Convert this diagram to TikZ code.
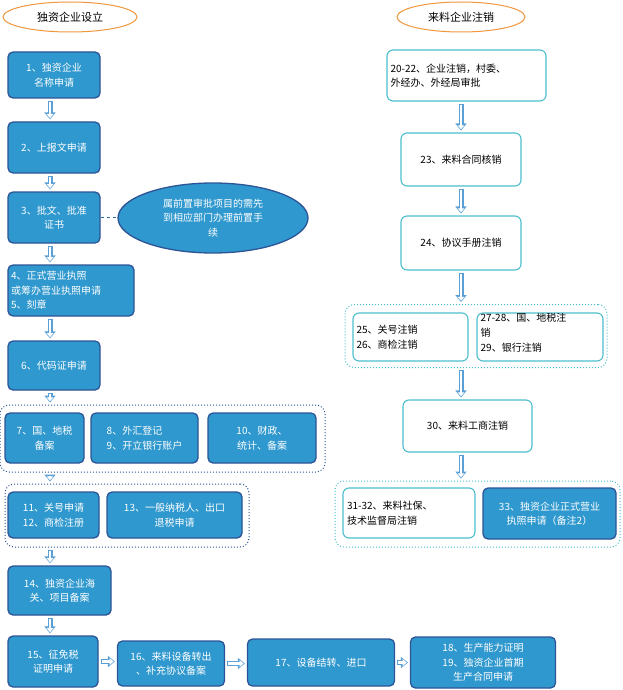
\documentclass[tikz,border=0pt]{standalone}
\usepackage{fontspec}
\setmainfont{Noto Sans CJK SC}
\usetikzlibrary{arrows.meta,shapes.geometric}
\definecolor{bfill}{RGB}{47,152,206}
\definecolor{bdraw}{RGB}{44,84,150}
\definecolor{teal}{RGB}{75,190,205}
\definecolor{acol}{RGB}{90,160,215}
\definecolor{orng}{RGB}{240,150,60}
\begin{document}
\begin{tikzpicture}[x=1pt,y=-1pt,
  every node/.style={font=\fontsize{10}{14.5}\selectfont, inner sep=1pt},
  bb/.style={rectangle, rounded corners=5pt, fill=bfill, draw=bdraw, line width=1.3pt, text=white, align=center},
  wb/.style={rectangle, rounded corners=6pt, fill=white, draw=teal, line width=1.1pt, text=black, align=center},
  grp/.style={rectangle, rounded corners=9pt, draw=bdraw, dotted, line width=1pt},
  grpt/.style={rectangle, rounded corners=9pt, draw=teal, dotted, line width=1pt},
  title/.style={ellipse, draw=orng, line width=1pt, fill=white, font=\fontsize{11}{13}\selectfont},
  hol/.style={shorten >=2pt, shorten <=2pt, line width=5pt, draw=acol, -{Triangle[width=11pt,length=7pt]},
    postaction={draw=white, line width=2.6pt, shorten >=3.2pt, shorten <=3.2pt, -{Triangle[width=6.5pt,length=4pt]}}},
]
\useasboundingbox (0,0) rectangle (622,690);
\coordinate (axl) at (50,0);
\coordinate (axr) at (461,0);
% titles
\node[title, minimum width=134pt, minimum height=30pt] (e1) at (70,17) {独资企业设立};
\node[title, minimum width=128pt, minimum height=30pt] (e2) at (461,17) {来料企业注销};
% left column
\node[bb, minimum width=92pt, minimum height=46pt] (b1) at (54,75) {1、独资企业\\名称申请};
\node[bb, minimum width=92pt, minimum height=51pt] (b2) at (54,147.5) {2、上报文申请};
\node[bb, minimum width=92pt, minimum height=51pt] (b3) at (54,217.5) {3、批文、批准\\证书};
\node[ellipse, fill=bfill, draw=bdraw, line width=1.3pt, text=white, align=center, minimum width=190pt, minimum height=70pt] (note) at (213,218) {属前置审批项目的需先\\到相应部门办理前置手\\续};
\node[bb, minimum width=126pt, minimum height=51pt, align=left, text width=120pt] (b4) at (71,290.5) {4、正式营业执照\\或筹办营业执照申请\\5、刻章};
\node[bb, minimum width=92pt, minimum height=49pt] (b6) at (54,365.5) {6、代码证申请};
\node[grp, minimum width=325pt, minimum height=67pt] (g1) at (162.5,438.5) {};
\node[bb, minimum width=79pt, minimum height=50pt] (b7) at (44.5,438) {7、国、地税\\备案};
\node[bb, minimum width=107pt, minimum height=50pt, align=left] (b8) at (144.5,438) {8、外汇登记\\9、开立银行账户};
\node[bb, minimum width=108pt, minimum height=50pt] (b10) at (262,438) {10、财政、\\统计、备案};
\node[grp, minimum width=244pt, minimum height=63pt] (g2) at (127,515.5) {};
\node[bb, minimum width=91pt, minimum height=46pt, align=left] (b11) at (53.5,515) {11、关号申请\\12、商检注册};
\node[bb, minimum width=135pt, minimum height=46pt] (b13) at (174.5,515) {13、一般纳税人、出口\\退税申请};
\node[bb, minimum width=103pt, minimum height=49pt] (b14) at (59.5,590.5) {14、独资企业海\\关、项目备案};
\node[bb, minimum width=90pt, minimum height=51pt] (b15) at (53,661.5) {15、征免税\\证明申请};
\node[bb, minimum width=107pt, minimum height=45pt] (b16) at (171,663.5) {16、来料设备转出\\、补充协议备案};
\node[bb, minimum width=147pt, minimum height=47pt] (b17) at (321,662.5) {17、设备结转、进口};
\node[bb, minimum width=145pt, minimum height=51pt] (b18) at (483,662.5) {18、生产能力证明\\19、独资企业首期\\生产合同申请};
% right column
\node[wb, minimum width=159pt, minimum height=51pt, align=left, text width=152pt] (b20) at (466.5,75.5) {20-22、企业注销，村委、\\外经办、外经局审批};
\node[wb, minimum width=120pt, minimum height=53pt] (b23) at (461,159.5) {23、来料合同核销};
\node[wb, minimum width=120pt, minimum height=54pt] (b24) at (461,243) {24、协议手册注销};
\node[grpt, minimum width=262pt, minimum height=63pt] (g3) at (476,336) {};
\node[wb, minimum width=115pt, minimum height=48pt, align=left, text width=108pt] (b25) at (410.5,337) {25、关号注销\\26、商检注销};
\node[wb, minimum width=126pt, minimum height=48pt] (b27) at (540,337) {};
\begin{scope}
\clip ([shift={(1,-1)}]b27.south west) rectangle ([shift={(-1,1)}]b27.north east);
\node[anchor=north west, align=left, font=\fontsize{10}{15}\selectfont] (t27) at ([shift={(3,-1)}]b27.north west) {27-28、国、地税注\\销\\29、银行注销};
\end{scope}
\node[wb, minimum width=129pt, minimum height=52pt] (b30) at (467.5,426) {30、来料工商注销};
\node[grpt, minimum width=285pt, minimum height=66pt] (g4) at (477.5,514) {};
\node[wb, minimum width=132pt, minimum height=50pt, align=left, text width=124pt] (b31) at (409,513) {31-32、来料社保、\\技术监督局注销};
\node[bb, minimum width=133pt, minimum height=51pt] (b33) at (549.5,513.5) {33、独资企业正式营业\\执照申请（备注2）};
% dashed link
\draw[bdraw!70!bfill, dashed, line width=1.5pt] (b3.east) -- (note.west |- b3.east);
% arrows left
\draw[hol] (b1.south -| axl) -- (b2.north -| axl);
\draw[hol] (b2.south -| axl) -- (b3.north -| axl);
\draw[hol] (b3.south -| axl) -- (b4.north -| axl);
\draw[hol] (b4.south -| axl) -- (b6.north -| axl);
\draw[hol] (b6.south -| axl) -- (g1.north -| axl);
\draw[hol] (g1.south -| axl) -- (g2.north -| axl);
\draw[hol] (g2.south -| axl) -- (b14.north -| axl);
\draw[hol] (b14.south -| axl) -- (b15.north -| axl);
\draw[hol] (b15.east) -- (b16.west |- b15.east);
\draw[hol] (b16.east) -- (b17.west |- b16.east);
\draw[hol] (b17.east) -- (b18.west |- b17.east);
% arrows right
\draw[hol] (b20.south -| axr) -- (b23.north -| axr);
\draw[hol] (b23.south -| axr) -- (b24.north -| axr);
\draw[hol] (b24.south -| axr) -- (g3.north -| axr);
\draw[hol] (g3.south -| axr) -- (b30.north -| axr);
\draw[hol] (b30.south -| axr) -- (g4.north -| axr);
\end{tikzpicture}
\end{document}
